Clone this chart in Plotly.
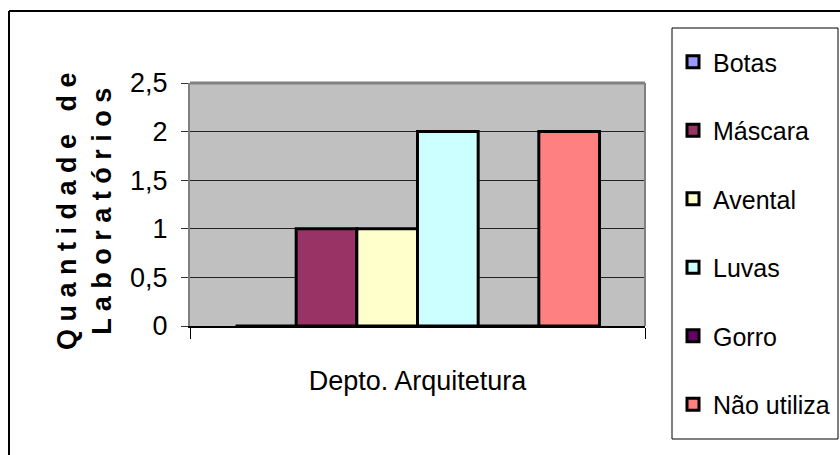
import plotly.graph_objects as go

# ---- data ----
categories = ["Depto. Arquitetura"]
series_names = ["Botas", "Máscara", "Avental", "Luvas", "Gorro", "Não utiliza"]
series_values = [0, 1, 1, 2, 0, 2]
series_colors = ["#9999FF", "#993366", "#FFFFCC", "#CCFFFF", "#660066", "#FF8080"]
y_tick_values = [0, 0.5, 1, 1.5, 2, 2.5]
y_title_lines = ["Quantidade de", "Laboratórios"]

# ---- layout geometry (pixels) ----
W, H = 840, 455
PL, PR, PT, PB = 190, 645, 83, 326
PW, PH = PR - PL, PB - PT

def fx(px):
    return (px - PL) / PW

def fy(py):
    return (PB - py) / PH

FONT = "Liberation Sans Narrow, Arial Narrow, Liberation Sans, Arial, sans-serif"

fig = go.Figure()
for name, val, col in zip(series_names, series_values, series_colors):
    fig.add_trace(go.Bar(
        x=categories, y=[val], name=name, legendgroup=name,
        marker=dict(color=col, line=dict(color="black", width=3)),
    ))

def spaced(s):
    return "   ".join(" ".join(list(w)) for w in s.split(" "))

title_text = "<br>".join(spaced(t) for t in y_title_lines)

fig.update_layout(
    width=W, height=H,
    margin=dict(l=PL, r=W - PR, t=PT, b=H - PB, autoexpand=False),
    paper_bgcolor="white", plot_bgcolor="#C0C0C0",
    separators=",.",
    barmode="group", bargap=0.2, bargroupgap=0,
    font=dict(family=FONT, color="black", size=27),
    showlegend=True,
    legend=dict(
        x=fx(673), y=fy(39), xanchor="left", yanchor="top",
        borderwidth=0, bgcolor="rgba(0,0,0,0)",
        font=dict(family=FONT, size=25, color="black"),
        traceorder="grouped", tracegroupgap=33, maxheight=440,
    ),
    xaxis=dict(
        showgrid=False, showline=True, linecolor="#000000", linewidth=2,
        ticks="outside", tickson="boundaries", ticklen=11, tickcolor="#000000",
        tickfont=dict(family=FONT, size=27, color="black"),
        ticklabelstandoff=30,
    ),
    yaxis=dict(
        range=[0, 2.5], tickvals=y_tick_values, tickformat=".1~f",
        showgrid=True, gridcolor="#222222", gridwidth=1,
        showline=True, linecolor="#808080", linewidth=2,
        zeroline=False,
        ticks="outside", ticklen=7, tickcolor="#333333",
        tickfont=dict(family=FONT, size=27, color="black"),
        ticklabelstandoff=8,
    ),
    annotations=[dict(
        xref="paper", yref="paper", x=fx(84), y=fy(211),
        xanchor="center", yanchor="middle", textangle=-90,
        text=title_text, showarrow=False,
        font=dict(family=FONT, size=27, color="black", weight="bold"),
    )],
    shapes=[
        # plot area border (top / right)
        dict(type="line", xref="paper", yref="paper", x0=0, x1=1, y0=1, y1=1,
             line=dict(color="#808080", width=3), layer="above"),
        dict(type="line", xref="paper", yref="paper", x0=1, x1=1, y0=0, y1=1,
             line=dict(color="#808080", width=2), layer="above"),
        # outer chart frame (left / top)
        dict(type="line", xref="paper", yref="paper", x0=fx(9), x1=fx(9), y0=fy(H), y1=fy(11),
             line=dict(color="black", width=2)),
        dict(type="line", xref="paper", yref="paper", x0=fx(9), x1=fx(W), y0=fy(11), y1=fy(11),
             line=dict(color="black", width=2)),
        # legend box
        dict(type="rect", xref="paper", yref="paper", x0=fx(672), x1=fx(838), y0=fy(439), y1=fy(28),
             line=dict(color="black", width=1), fillcolor="rgba(0,0,0,0)"),
    ],
)

fig.write_html("out.html")
